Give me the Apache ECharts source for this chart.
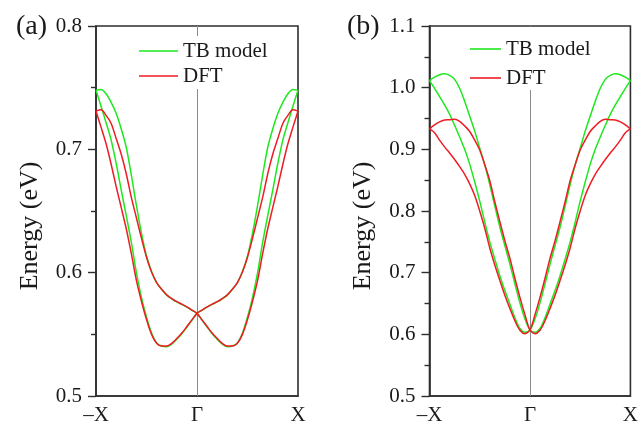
<!DOCTYPE html>
<html>
<head>
<meta charset="utf-8">
<title>Band structure: TB model vs DFT</title>
<script src="https://cdn.jsdelivr.net/npm/echarts@6/dist/echarts.min.js"></script>
<style>
  html, body { margin: 0; padding: 0; background: #ffffff; }
  #chart { width: 641px; height: 426px; }
</style>
</head>
<body>
<div id="chart"></div>
<script>
// Wave vector along the path -X -> Gamma -> X (in units of the zone-boundary vector)
const kPoints = [
  -1, -0.95, -0.9, -0.85, -0.8, -0.75, -0.7, -0.65, -0.6, -0.55, -0.5,
  -0.45, -0.4, -0.35, -0.3, -0.25, -0.2, -0.15, -0.1, -0.05, 0,
  0.05, 0.1, 0.15, 0.2, 0.25, 0.3, 0.35, 0.4, 0.45, 0.5,
  0.55, 0.6, 0.65, 0.7, 0.75, 0.8, 0.85, 0.9, 0.95, 1
];
const xTickLabels = { '-1': '\u2013X', '0': '\u0393', '1': 'X' };

// Panel (a): two bands crossing at Gamma, energies in eV
const aTB1 = [0.748, 0.735, 0.7215, 0.7075, 0.6885, 0.667, 0.646, 0.6245, 0.600, 0.580, 0.564,
  0.551, 0.543, 0.5405, 0.540, 0.542, 0.546, 0.5505, 0.556, 0.5615, 0.567,
  0.5695, 0.572, 0.5743, 0.5763, 0.5788, 0.5818, 0.5865, 0.592, 0.601, 0.6135,
  0.632, 0.6545, 0.679, 0.7015, 0.7165, 0.729, 0.738, 0.745, 0.7485, 0.748];
const aTB2 = [0.748, 0.7485, 0.745, 0.738, 0.729, 0.7165, 0.7015, 0.679, 0.6545, 0.632, 0.6135,
  0.601, 0.592, 0.5865, 0.5818, 0.5788, 0.5763, 0.5743, 0.572, 0.5695, 0.567,
  0.5615, 0.556, 0.5505, 0.546, 0.542, 0.540, 0.5405, 0.543, 0.551, 0.564,
  0.580, 0.600, 0.6245, 0.646, 0.667, 0.6885, 0.7075, 0.7215, 0.735, 0.748];
const aDFT1 = [0.731, 0.718, 0.7045, 0.6879, 0.6697, 0.6527, 0.6354, 0.6154, 0.5938, 0.5768, 0.562,
  0.550, 0.5428, 0.5405, 0.5405, 0.5427, 0.5467, 0.551, 0.5563, 0.5617, 0.567,
  0.5697, 0.5722, 0.5745, 0.5765, 0.579, 0.582, 0.5865, 0.592, 0.6005, 0.6125,
  0.628, 0.6445, 0.661, 0.680, 0.696, 0.7087, 0.721, 0.7275, 0.732, 0.731];
const aDFT2 = [0.731, 0.732, 0.7275, 0.721, 0.7087, 0.696, 0.680, 0.661, 0.6445, 0.628, 0.6125,
  0.6005, 0.592, 0.5865, 0.582, 0.579, 0.5765, 0.5745, 0.5722, 0.5697, 0.567,
  0.5617, 0.5563, 0.551, 0.5467, 0.5427, 0.5405, 0.5405, 0.5428, 0.550, 0.562,
  0.5768, 0.5938, 0.6154, 0.6354, 0.6527, 0.6697, 0.6879, 0.7045, 0.718, 0.731];

// Panel (b)
const bTB1 = [1.0115, 0.999, 0.9855, 0.972, 0.957, 0.939, 0.920, 0.900, 0.876, 0.847, 0.816,
  0.782, 0.750, 0.722, 0.695, 0.671, 0.649, 0.627, 0.6095, 0.6035, 0.607,
  0.625, 0.651, 0.682, 0.714, 0.744, 0.774, 0.808, 0.843, 0.875, 0.902,
  0.9295, 0.954, 0.978, 0.999, 1.0135, 1.020, 1.0225, 1.021, 1.017, 1.0115];
const bTB2 = [1.0115, 1.017, 1.021, 1.0225, 1.020, 1.0135, 0.999, 0.978, 0.954, 0.9295, 0.902,
  0.875, 0.843, 0.808, 0.774, 0.744, 0.714, 0.682, 0.651, 0.625, 0.607,
  0.6035, 0.6095, 0.627, 0.649, 0.671, 0.695, 0.722, 0.750, 0.782, 0.816,
  0.847, 0.876, 0.900, 0.920, 0.939, 0.957, 0.972, 0.9855, 0.999, 1.0115];
const bDFT1 = [0.933, 0.927, 0.915, 0.904, 0.894, 0.8835, 0.872, 0.8595, 0.844, 0.825, 0.800,
  0.772, 0.740, 0.7125, 0.6875, 0.6635, 0.642, 0.622, 0.6065, 0.601, 0.607,
  0.632, 0.660, 0.691, 0.7235, 0.752, 0.783, 0.815, 0.849, 0.875, 0.899,
  0.915, 0.929, 0.938, 0.9454, 0.9488, 0.948, 0.9475, 0.9445, 0.9395, 0.933];
const bDFT2 = [0.933, 0.9395, 0.9445, 0.9475, 0.948, 0.9488, 0.9454, 0.938, 0.929, 0.915, 0.899,
  0.875, 0.849, 0.815, 0.783, 0.752, 0.7235, 0.691, 0.660, 0.632, 0.607,
  0.601, 0.6065, 0.622, 0.642, 0.6635, 0.6875, 0.7125, 0.740, 0.772, 0.800,
  0.825, 0.844, 0.8595, 0.872, 0.8835, 0.894, 0.904, 0.915, 0.927, 0.933];

const FONT = 'Liberation Serif';
const INK = '#1a1a1a';
const AXIS = '#2e2e2e';
const GREEN = '#1ee81e';
const RED = '#ee1c24';

function pairs(values) {
  return kPoints.map((k, i) => [k, values[i]]);
}

function band(name, values, color, gridIdx, withGamma) {
  const s = {
    name: name,
    type: 'line',
    xAxisIndex: gridIdx,
    yAxisIndex: gridIdx,
    data: pairs(values),
    symbol: 'none',
    smooth: 0.3,
    lineStyle: { color: color, width: 1.5 },
    itemStyle: { color: color },
    z: 3
  };
  if (withGamma) {
    // vertical guide at the Gamma point
    s.markLine = {
      silent: true,
      symbol: 'none',
      label: { show: false },
      lineStyle: { color: '#8a8a8a', width: 1, type: 'solid' },
      data: [{ xAxis: 0 }],
      z: 1
    };
  }
  return s;
}

function xAxisFor(gridIdx) {
  return {
    type: 'value', gridIndex: gridIdx, min: -1, max: 1, interval: 1,
    axisLine: { show: true, onZero: false, lineStyle: { color: AXIS, width: 1.6 } },
    axisTick: { show: false },
    splitLine: { show: false },
    axisLabel: {
      margin: 9, color: INK, fontFamily: FONT, fontSize: 21,
      formatter: v => xTickLabels[String(Math.round(v))] || ''
    }
  };
}

function yAxisFor(gridIdx, min, max) {
  return {
    type: 'value', gridIndex: gridIdx, min: min, max: max, interval: 0.1,
    name: 'Energy (eV)', nameLocation: 'middle', nameGap: 53,
    nameTextStyle: { color: INK, fontFamily: FONT, fontSize: 26, padding: [0, 30, 0, 0] },
    axisLine: { show: true, onZero: false, lineStyle: { color: AXIS, width: 1.6 } },
    axisTick: { show: true, inside: false, length: 8, lineStyle: { color: AXIS, width: 1.4 } },
    minorTick: { show: true, splitNumber: 2, length: 5, lineStyle: { color: AXIS, width: 1.4 } },
    splitLine: { show: false },
    minorSplitLine: { show: false },
    axisLabel: {
      margin: 14, color: INK, fontFamily: FONT, fontSize: 21,
      formatter: v => v.toFixed(1)
    }
  };
}

function legendFor(left, top, itemWidth, gap, padding) {
  return {
    orient: 'vertical', left: left, top: top,
    icon: 'rect',
    itemWidth: itemWidth, itemHeight: 1.6, itemGap: gap,
    padding: padding,
    backgroundColor: '#ffffff',
    data: ['TB model', 'DFT'],
    selectedMode: false,
    textStyle: { color: INK, fontFamily: FONT, fontSize: 21, lineHeight: 22, height: 22 }
  };
}

const chart = echarts.init(document.getElementById('chart'), null, { renderer: 'canvas' });
chart.setOption({
  animation: false,
  backgroundColor: '#ffffff',
  title: [
    { text: '(a)', left: 11, top: 8, textStyle: { color: INK, fontFamily: FONT, fontSize: 28, fontWeight: 'normal' } },
    { text: '(b)', left: 342, top: 8, textStyle: { color: INK, fontFamily: FONT, fontSize: 28, fontWeight: 'normal' } }
  ],
  legend: [
    legendFor(135, 36, 39, 3, [4, 6, 2, 4]),
    legendFor(466, 27, 31, 7, [11, 6, 1, 4])
  ],
  grid: [
    { left: 96, top: 26, width: 202, height: 371, show: true, borderColor: AXIS, borderWidth: 1.6, backgroundColor: 'transparent' },
    { left: 429.5, top: 26, width: 202, height: 371, show: true, borderColor: AXIS, borderWidth: 1.6, backgroundColor: 'transparent' }
  ],
  xAxis: [xAxisFor(0), xAxisFor(1)],
  yAxis: [yAxisFor(0, 0.5, 0.8), yAxisFor(1, 0.5, 1.1)],
  series: [
    band('TB model', aTB1, GREEN, 0, true),
    band('TB model', aTB2, GREEN, 0, false),
    band('DFT', aDFT1, RED, 0, false),
    band('DFT', aDFT2, RED, 0, false),
    band('TB model', bTB1, GREEN, 1, true),
    band('TB model', bTB2, GREEN, 1, false),
    band('DFT', bDFT1, RED, 1, false),
    band('DFT', bDFT2, RED, 1, false)
  ]
});
</script>
</body>
</html>
